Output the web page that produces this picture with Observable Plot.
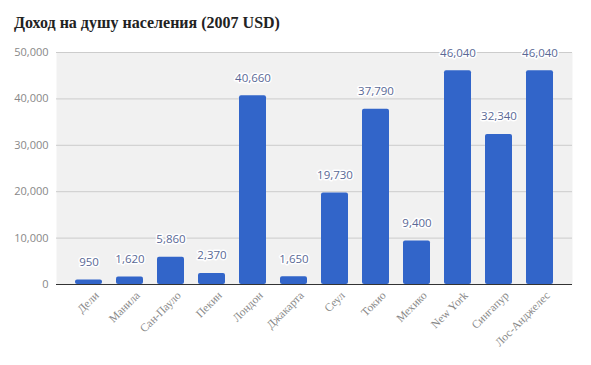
<!DOCTYPE html>
<html>
<head>
<meta charset="utf-8">
<script src="https://cdn.jsdelivr.net/npm/d3@7"></script>
<script src="https://cdn.jsdelivr.net/npm/@observablehq/plot@0.6"></script>
<style>
  body { margin: 0; background: #fff; width: 591px; height: 365px; overflow: hidden; }
  #title { height: 40px; box-sizing: border-box; padding: 14px 0 0 14px; font: bold 16px "Liberation Serif", "DejaVu Serif", serif; color: #222; }
  svg { display: block; }
</style>
</head>
<body>
<div id="title">Доход на душу населения (2007 USD)</div>
<div id="chart"></div>
<script>
const cities = ["Дели", "Манила", "Сан-Пауло", "Пекин", "Лондон", "Джакарта", "Сеул", "Токио", "Мехико", "New York", "Сингапур", "Лос-Анджелес"];
const incomes = [950, 1620, 5860, 2370, 40660, 1650, 19730, 37790, 9400, 46040, 32340, 46040];
const yTicks = [0, 10000, 20000, 30000, 40000, 50000];

const data = cities.map((c, i) => ({city: c, income: incomes[i]}));
const fmt = d3.format(",");

const chart = Plot.plot({
  width: 591,
  height: 325,
  marginTop: 12,
  marginBottom: 81,
  marginLeft: 56,
  marginRight: 19,
  style: {background: "#fff", fontFamily: "'Open Sans', sans-serif"},
  x: {domain: cities, paddingInner: 0.35, paddingOuter: 0.33, label: null},
  y: {domain: [0, 50000], label: null},
  marks: [
    Plot.frame({fill: "#f1f1f1", stroke: null}),
    Plot.gridY(yTicks, {stroke: "#cccccc", strokeOpacity: 1}),
    Plot.barY(data, {x: "city", y: "income", fill: "#3265c9", rx: 2}),
    Plot.ruleY([0], {stroke: "#333", strokeWidth: 1}),
    Plot.axisY(yTicks, {tickSize: 0, tickPadding: 8, tickFormat: fmt, fill: "#888", fontSize: 11, fontFamily: "'Open Sans', sans-serif"}),
    Plot.axisX({tickSize: 0, tickRotate: -45, tickPadding: 6, dx: 8, dy: 3, fill: "#888", fontSize: 11.5, fontFamily: "'Liberation Serif', serif"}),
    Plot.text(data, {x: "city", y: "income", text: d => fmt(d.income), dy: -18, fill: "#5a6996", stroke: "white", strokeWidth: 3, paintOrder: "stroke", fontSize: 11.5, fontFamily: "'Open Sans', sans-serif"})
  ]
});
document.getElementById("chart").appendChild(chart);
</script>
</body>
</html>
